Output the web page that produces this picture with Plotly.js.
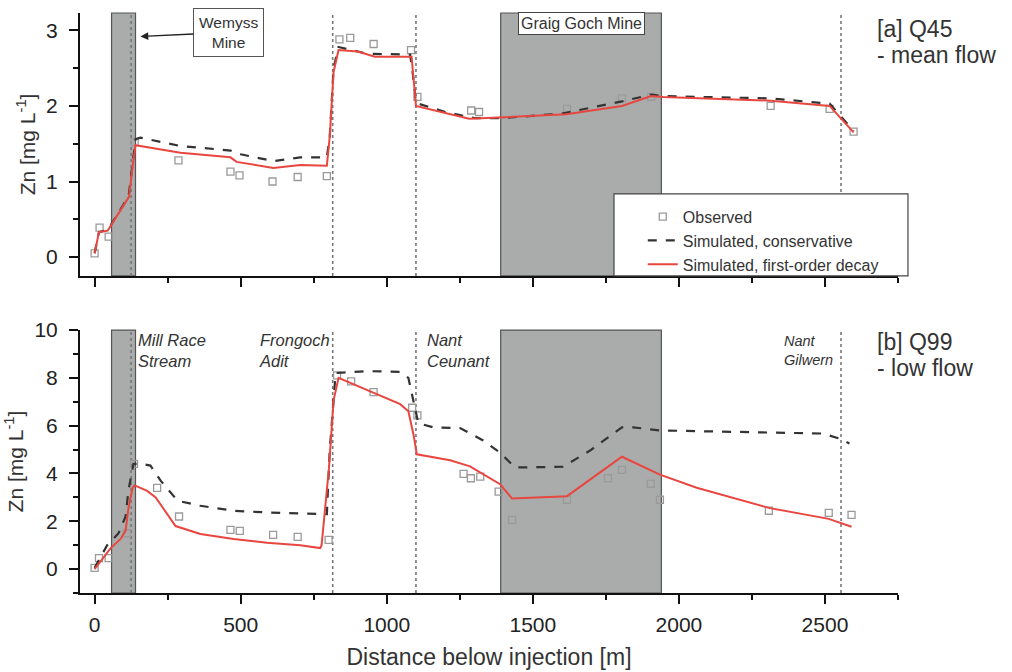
<!DOCTYPE html>
<html>
<head>
<meta charset="utf-8">
<script src="https://cdn.plot.ly/plotly-3.0.1.min.js"></script>
<style>html,body{margin:0;padding:0;background:#fff;}#chart{width:1012px;height:672px;}</style>
</head>
<body>
<div id="chart"></div>
<script>
// ---------- Panel [a] Q45 mean flow ----------
const obsA_x = [0, 17, 48, 137, 287, 465, 496, 609, 695, 795, 838, 875, 955, 1083, 1105, 1289, 1316, 1617, 1805, 1905, 2314, 2516, 2598];
const obsA_y = [0.05, 0.39, 0.27, 1.52, 1.28, 1.13, 1.08, 1.0, 1.06, 1.07, 2.88, 2.9, 2.82, 2.74, 2.12, 1.94, 1.92, 1.96, 2.1, 2.12, 2.0, 1.96, 1.66];

const consA_x = [0, 15, 45, 70, 100, 118, 130, 140, 157, 294, 465, 500, 612, 704, 795, 805, 818, 835, 933, 1080, 1090, 1100, 1200, 1300, 1400, 1600, 1805, 1905, 1945, 2314, 2516, 2598];
const consA_y = [0.05, 0.33, 0.36, 0.52, 0.7, 0.85, 1.25, 1.56, 1.58, 1.47, 1.41, 1.36, 1.27, 1.32, 1.32, 1.6, 2.5, 2.78, 2.69, 2.68, 2.4, 2.04, 1.92, 1.84, 1.84, 1.9, 2.06, 2.15, 2.13, 2.1, 2.03, 1.67];

const decayA_x = [0, 15, 45, 70, 100, 118, 130, 140, 294, 465, 486, 612, 704, 795, 805, 818, 835, 900, 960, 1085, 1092, 1100, 1282, 1402, 1614, 1805, 1905, 1945, 2314, 2516, 2598];
const decayA_y = [0.05, 0.33, 0.35, 0.5, 0.68, 0.8, 1.2, 1.48, 1.38, 1.32, 1.26, 1.18, 1.22, 1.21, 1.6, 2.45, 2.74, 2.72, 2.65, 2.65, 2.35, 2.0, 1.83, 1.85, 1.89, 2.0, 2.13, 2.12, 2.07, 2.0, 1.65];

// ---------- Panel [b] Q99 low flow ----------
const obsB_x = [0, 15, 48, 110, 135, 214, 289, 465, 497, 611, 695, 801, 830, 878, 955, 1087, 1105, 1263, 1288, 1320, 1383, 1429, 1617, 1757, 1805, 1904, 1935, 2308, 2513, 2591];
const obsB_y = [0.05, 0.46, 0.46, 1.5, 4.4, 3.4, 2.2, 1.64, 1.6, 1.43, 1.35, 1.22, 8.1, 7.85, 7.4, 6.75, 6.43, 3.98, 3.8, 3.87, 3.24, 2.06, 2.9, 3.8, 4.15, 3.57, 2.9, 2.44, 2.35, 2.27];

const consB_x = [0, 43, 82, 106, 116, 133, 160, 191, 226, 284, 362, 476, 590, 795, 805, 825, 933, 1046, 1074, 1092, 1108, 1159, 1251, 1330, 1388, 1439, 1603, 1696, 1805, 1843, 1935, 2492, 2550, 2584];
const consB_y = [0.05, 1.0, 1.5, 2.2, 3.3, 4.4, 4.4, 4.33, 3.7, 2.86, 2.65, 2.44, 2.37, 2.3, 5.0, 8.2, 8.28, 8.25, 8.0, 7.06, 6.1, 5.93, 5.9, 5.38, 4.87, 4.25, 4.28, 4.96, 5.93, 5.93, 5.8, 5.67, 5.46, 5.25];

const decayB_x = [0, 55, 89, 106, 116, 130, 137, 180, 209, 237, 277, 362, 476, 590, 704, 772, 777, 802, 818, 835, 933, 1046, 1074, 1092, 1103, 1217, 1285, 1388, 1429, 1617, 1805, 1935, 2061, 2311, 2513, 2591];
const decayB_y = [0.0, 0.88, 1.26, 1.6, 2.56, 3.4, 3.5, 3.27, 3.0, 2.5, 1.8, 1.47, 1.26, 1.1, 1.0, 0.88, 1.0, 4.2, 7.06, 8.0, 7.5, 6.9, 6.6, 5.6, 4.8, 4.55, 4.3, 3.55, 2.95, 3.05, 4.7, 3.95, 3.4, 2.55, 2.1, 1.77];

// ---------- Features ----------
const mineBands = [[58, 140], [1390, 1940]];
const tribLines = [125, 815, 1100, 2555];
const tribLabelsB = [
  {x: 140, text: 'Mill Race<br>Stream'},
  {x: 555, text: 'Frongoch<br>Adit'},
  {x: 1130, text: 'Nant<br>Ceunant'}
];

const FONT = 'Liberation Sans, Arial, sans-serif';
const RED = '#e8463f';
const DASH = '#333333';
const OBS = '#9a9a9a';

function obsTrace(x, y, xa, ya, show) {
  return {x, y, xaxis: xa, yaxis: ya, type: 'scatter', mode: 'markers', name: 'Observed',
    showlegend: show, legendrank: 1,
    marker: {symbol: 'square-open', size: 7, color: OBS, line: {width: 1.3, color: OBS}}};
}
function consTrace(x, y, xa, ya, show) {
  return {x, y, xaxis: xa, yaxis: ya, type: 'scatter', mode: 'lines', name: 'Simulated, conservative',
    showlegend: show, legendrank: 2, line: {color: DASH, width: 2.2, dash: 'dash'}};
}
function decayTrace(x, y, xa, ya, show) {
  return {x, y, xaxis: xa, yaxis: ya, type: 'scatter', mode: 'lines', name: 'Simulated, first-order decay',
    showlegend: show, legendrank: 3, line: {color: RED, width: 2}};
}

const data = [
  obsTrace(obsA_x, obsA_y, 'x2', 'y2', true),
  consTrace(consA_x, consA_y, 'x2', 'y2', true),
  decayTrace(decayA_x, decayA_y, 'x2', 'y2', true),
  obsTrace(obsB_x, obsB_y, 'x', 'y', false),
  consTrace(consB_x, consB_y, 'x', 'y', false),
  decayTrace(decayB_x, decayB_y, 'x', 'y', false)
];

const shapes = [];
for (const [ya, xa] of [['y', 'x'], ['y2', 'x2']]) {
  for (const b of mineBands) {
    shapes.push({type: 'rect', xref: xa, yref: ya + ' domain', x0: b[0], x1: b[1], y0: 0, y1: 1,
      fillcolor: '#aaacac', line: {color: '#555', width: 1.2}, layer: 'below'});
  }
  for (const t of tribLines) {
    shapes.push({type: 'line', xref: xa, yref: ya + ' domain', x0: t, x1: t, y0: 0, y1: 1,
      line: {color: '#777', width: 1.6, dash: 'dot'}, layer: 'below'});
  }
}
// legend frame (drawn as a box, legend text sits inside it)
shapes.push({type: 'rect', xref: 'paper', yref: 'paper', x0: 0.6528, x1: 1.0122, y0: 0.5466, y1: 0.688,
  fillcolor: '#fff', line: {color: '#444', width: 1.2}, layer: 'above'});

const annotations = [
  {xref: 'x2', yref: 'y2', x: 157, y: 2.92, ax: 88, ay: -4, text: 'Wemyss<br>Mine', showarrow: true,
   arrowhead: 2, arrowsize: 1.2, arrowwidth: 1.3, arrowcolor: '#222',
   font: {family: FONT, size: 15.5, color: '#333'}, bordercolor: '#555', borderwidth: 1, borderpad: 5, bgcolor: '#fff'},
  {xref: 'x2', yref: 'y2', x: 1665, y: 3.09, text: 'Graig Goch Mine', showarrow: false,
   font: {family: FONT, size: 16, color: '#333'}, bordercolor: '#444', borderwidth: 1, borderpad: 2, bgcolor: '#fff'},
  {xref: 'paper', yref: 'paper', x: 0.972, y: 0.998, xanchor: 'left', yanchor: 'top', align: 'left',
   text: '[a] Q45', showarrow: false, font: {family: FONT, size: 23, color: '#333'}},
  {xref: 'paper', yref: 'paper', x: 0.972, y: 0.953, xanchor: 'left', yanchor: 'top', align: 'left',
   text: '- mean flow', showarrow: false, font: {family: FONT, size: 23, color: '#333'}},
  {xref: 'paper', yref: 'paper', x: 0.972, y: 0.459, xanchor: 'left', yanchor: 'top', align: 'left',
   text: '[b] Q99', showarrow: false, font: {family: FONT, size: 23, color: '#333'}},
  {xref: 'paper', yref: 'paper', x: 0.972, y: 0.414, xanchor: 'left', yanchor: 'top', align: 'left',
   text: '- low flow', showarrow: false, font: {family: FONT, size: 23, color: '#333'}},
  {xref: 'x', yref: 'paper', x: 2535, y: 0.452, xanchor: 'right', yanchor: 'top', align: 'left',
   text: '<i>Nant<br>Gilwern</i>', showarrow: false, font: {family: FONT, size: 14.5, color: '#333'}}
];
for (const l of tribLabelsB) {
  annotations.push({xref: 'x', yref: 'paper', x: l.x, y: 0.456, xanchor: 'left', yanchor: 'top', align: 'left',
    text: '<i>' + l.text + '</i>', showarrow: false, font: {family: FONT, size: 16.5, color: '#333'}});
}

const axisCommon = {
  showline: true, linecolor: '#111', linewidth: 2, ticks: 'outside', ticklen: 9, tickwidth: 2, tickcolor: '#111',
  showgrid: false, zeroline: false, tickfont: {family: FONT, size: 21, color: '#222'}
};
const minorX = {dtick: 250, ticklen: 5, tickwidth: 2, tickcolor: '#111', ticks: 'outside'};

const layout = {
  width: 1012, height: 672,
  margin: {l: 80, r: 114, t: 13, b: 79},
  paper_bgcolor: '#fff', plot_bgcolor: 'rgba(0,0,0,0)',
  font: {family: FONT, color: '#222'},
  showlegend: true,
  legend: {x: 0.688, y: 0.678, xanchor: 'left', yanchor: 'top', bgcolor: 'rgba(0,0,0,0)', borderwidth: 0,
    font: {family: FONT, size: 16, color: '#333'}, itemwidth: 30, tracegroupgap: 0},
  xaxis: Object.assign({}, axisCommon, {anchor: 'y', range: [-50, 2750], dtick: 500, tick0: 0, ticklabelstandoff: 3,
    minor: minorX,
    title: {text: 'Distance below injection [m]', font: {family: FONT, size: 23, color: '#333'}, standoff: 14}}),
  xaxis2: Object.assign({}, axisCommon, {anchor: 'y2', matches: 'x', range: [-50, 2750], dtick: 500, tick0: 0,
    showticklabels: false, minor: minorX}),
  yaxis: Object.assign({}, axisCommon, {domain: [0, 0.4534], anchor: 'x', range: [-1, 10], dtick: 2, tick0: 0,
    ticklabelstandoff: 7,
    minor: {dtick: 1, ticklen: 5, tickwidth: 2, tickcolor: '#111', ticks: 'outside'},
    title: {text: 'Zn [mg L<sup>-1</sup>]', font: {family: FONT, size: 21, color: '#333'}, standoff: 5}}),
  yaxis2: Object.assign({}, axisCommon, {domain: [0.5466, 1], anchor: 'x2', range: [-0.25, 3.23], dtick: 1, tick0: 0,
    ticklabelstandoff: 7,
    minor: {dtick: 0.5, ticklen: 5, tickwidth: 2, tickcolor: '#111', ticks: 'outside'},
    title: {text: 'Zn [mg L<sup>-1</sup>]', font: {family: FONT, size: 21, color: '#333'}, standoff: 5}}),
  shapes, annotations
};

Plotly.newPlot('chart', data, layout, {staticPlot: true, displayModeBar: false});
</script>
</body>
</html>
